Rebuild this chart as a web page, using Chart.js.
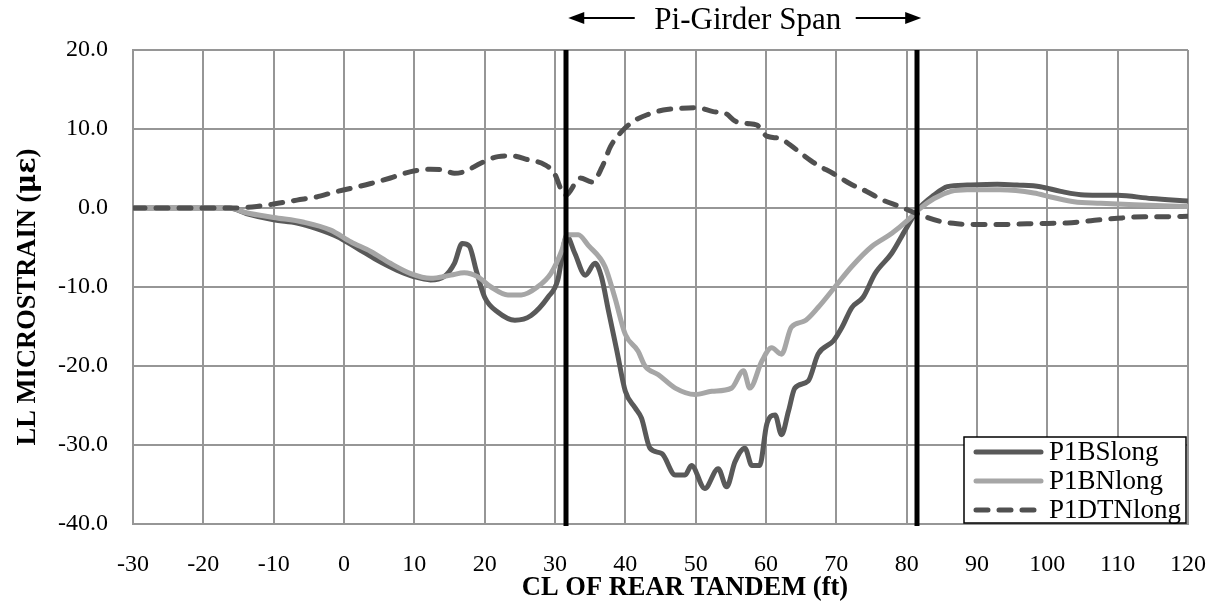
<!DOCTYPE html>
<html>
<head>
<meta charset="utf-8">
<script src="https://cdn.jsdelivr.net/npm/chart.js@4/dist/chart.umd.min.js"></script>
<style>
  html, body { margin: 0; padding: 0; background: #fff; }
  #wrap { width: 1217px; height: 603px; }
</style>
</head>
<body>
<div id="wrap"><canvas id="strainChart" width="1217" height="603"></canvas></div>
<script>
// strain vs. rear tandem position
const serif = "'Liberation Serif', 'Times New Roman', serif";

const xTicks = [-30, -20, -10, 0, 10, 20, 30, 40, 50, 60, 70, 80, 90, 100, 110, 120];
const yTicks = [-40, -30, -20, -10, 0, 10, 20];
const spanEnds = [31.6, 81.5];

const seriesNames = ['P1BSlong', 'P1BNlong', 'P1DTNlong'];

const bsX = [-30, -16.3, -13.9, -10, -6.7, -3.9, -1, 1.9, 4.7, 7.6, 10, 12.3, 14.2, 15.7, 16.8, 17.8, 18.8, 20, 21.9, 24.3,
  26.6, 29, 30.4, 31.4, 31.7, 32.8, 34.3, 35.7, 36.6, 37.6, 38.8, 40, 41.4, 42.3, 43.5, 45.2, 47.1, 48.5, 49.4, 51.3,
  53.2, 54.4, 55.6, 57, 58, 59.1, 60.1, 61.3, 62.2, 63.2, 64.1, 66, 67.4, 69.6, 70.8, 72.2, 73.8, 75.5, 77.9, 79.8,
  81.5, 83.9, 85.8, 88.6, 92.9, 95.7, 99, 101.9, 105.3, 110, 114.8, 120];
const bsY = [0, 0, -0.7, -1.5, -1.9, -2.6, -3.6, -5.1, -6.6, -7.9, -8.7, -9.1, -8.7, -7.0, -4.5, -4.8, -7.9, -11.3, -13.2, -14.2,
  -13.6, -11.3, -9.1, -4.1, -3.6, -5.7, -8.5, -7.0, -8.7, -13.0, -18.1, -23.2, -25.3, -26.6, -30.4, -31.1, -33.8, -33.8, -32.6, -35.5,
  -33.0, -35.3, -32.1, -30.4, -32.6, -32.6, -27.4, -26.2, -28.7, -25.7, -22.8, -21.9, -18.5, -16.8, -15.1, -12.6, -11.3, -8.3, -5.7, -2.8,
  -0.3, 1.65, 2.7, 2.9, 3.0, 2.9, 2.7, 2.1, 1.65, 1.6, 1.2, 0.9];

const bnX = [-30, -16.3, -13.9, -10, -5.7, -1.9, 1, 3.8, 6.6, 9.5, 12.3, 15.2, 17.1, 19, 20.9, 23.3, 25.2, 27.5, 29.4, 31,
  31.7, 33.3, 34.7, 37.1, 38.5, 40, 41.8, 42.8, 44.7, 47.1, 49.9, 52.3, 55.1, 56.8, 57.7, 59.4, 60.8, 62.2, 63.6, 65.5,
  67.4, 69.8, 72.2, 75, 77.9, 80.2, 81.7, 83.9, 86.3, 88.6, 93.3, 98.1, 100.5, 103.8, 107.6, 112.4, 120];
const bnY = [0, 0, -0.6, -1.2, -1.8, -2.8, -4.3, -5.5, -7.0, -8.3, -8.9, -8.5, -8.2, -8.7, -10.0, -11.0, -11.0, -10.0, -8.3, -5.3,
  -3.4, -3.4, -4.7, -7.4, -11.3, -16.0, -18.1, -20.0, -21.1, -22.8, -23.6, -23.2, -22.8, -20.6, -22.8, -19.4, -17.7, -18.5, -15.1, -14.3,
  -12.6, -10.0, -7.4, -4.9, -3.2, -1.5, -0.2, 1.2, 2.1, 2.3, 2.3, 1.9, 1.4, 0.8, 0.6, 0.4, 0.2];

const dtX = [-30, -16, -12.4, -10, -6.7, -3.9, -1.4, 1, 3.8, 6.6, 9.5, 12.3, 14.2, 15.7, 17.1, 19.5, 21.9, 23.8, 26.2, 28.5,
  29.9, 31.1, 31.5, 33.6, 35.3, 36.7, 37.9, 39.5, 41.2, 43.1, 45.4, 47.8, 50.2, 52.5, 54.2, 55.6, 57.3, 58.7, 60.1, 62,
  63.4, 65.3, 67.2, 69.5, 71.9, 74.3, 76.6, 79, 81.4, 82, 84.8, 87.2, 90.5, 93.3, 97.1, 100, 102.8, 106.2, 110, 113.8,
  117.1, 120];
const dtY = [0, 0, 0.2, 0.5, 1.0, 1.4, 2.0, 2.5, 3.1, 3.8, 4.6, 4.9, 4.8, 4.4, 4.6, 5.7, 6.5, 6.6, 6.1, 5.5,
  4.4, 1.9, 1.6, 3.8, 3.3, 5.2, 7.8, 9.7, 11.0, 11.8, 12.4, 12.6, 12.7, 12.2, 12.0, 11.0, 10.7, 10.5, 9.1, 8.8,
  8.0, 6.7, 5.5, 4.4, 3.1, 2.1, 1.0, 0.2, -0.7, -0.9, -1.7, -2.0, -2.1, -2.1, -2.0, -1.95, -1.9, -1.6, -1.3, -1.1,
  -1.1, -1.05];

const pts = (xs, ys) => xs.slice(0, Math.min(xs.length, ys.length)).map((x, i) => ({ x: x, y: ys[i] }));

const gridColor = '#969696';

// text drawn in runs so the greek letters can use a wider face
function drawRuns(ctx, runs, cx, cy) {
  const widths = runs.map(r => { ctx.font = r[1]; return ctx.measureText(r[0]).width; });
  let x = cx - widths.reduce((s, w) => s + w, 0) / 2;
  ctx.textAlign = 'left';
  runs.forEach((r, i) => {
    ctx.font = r[1];
    ctx.fillText(r[0], x, cy);
    x += widths[i];
  });
}

// black span markers, arrows, titles and the boxed legend
const decorations = {
  id: 'decorations',
  afterDatasetsDraw(chart) {
    const { ctx, chartArea, scales } = chart;
    ctx.save();
    ctx.strokeStyle = '#000';
    ctx.lineWidth = 5;
    spanEnds.forEach(v => {
      const px = Math.round(scales.x.getPixelForValue(v));
      ctx.beginPath();
      ctx.moveTo(px, chartArea.top);
      ctx.lineTo(px, chartArea.bottom + 2);
      ctx.stroke();
    });
    ctx.restore();
  },
  afterDraw(chart) {
    const { ctx, chartArea, scales } = chart;
    const a = scales.x.getPixelForValue(spanEnds[0]);
    const b = scales.x.getPixelForValue(spanEnds[1]);
    ctx.save();

    // span caption with arrows
    const cy = 18;
    ctx.font = '31px ' + serif;
    ctx.fillStyle = '#000';
    ctx.textAlign = 'center';
    ctx.textBaseline = 'middle';
    const mid = (a + b) / 2 + 6;
    ctx.fillText('Pi-Girder Span', mid, cy + 3);
    const arrow = (from, to) => {
      const dir = Math.sign(to - from);
      ctx.strokeStyle = '#000';
      ctx.lineWidth = 2;
      ctx.beginPath();
      ctx.moveTo(from, cy);
      ctx.lineTo(to - dir * 12, cy);
      ctx.stroke();
      ctx.beginPath();
      ctx.moveTo(to, cy);
      ctx.lineTo(to - dir * 16, cy - 6);
      ctx.lineTo(to - dir * 16, cy + 6);
      ctx.closePath();
      ctx.fill();
    };
    arrow(mid - 113, a + 2);
    arrow(mid + 108, b + 4);

    // axis titles
    ctx.font = 'bold 26.5px ' + serif;
    ctx.fillText('CL OF REAR TANDEM (ft)', 685, 588);
    ctx.save();
    ctx.translate(28, 297);
    ctx.rotate(-Math.PI / 2);
    drawRuns(ctx, [
      ['LL MICROSTRAIN (', 'bold 26.5px ' + serif],
      ['\u03bc\u03b5', "bold 27px 'DejaVu Serif', serif"],
      [')', 'bold 26.5px ' + serif]
    ], 0, 0);
    ctx.restore();

    // legend box
    const w = 222, h = 86;
    const lx = chartArea.right - w - 2, ly = chartArea.bottom - h - 1;
    ctx.fillStyle = '#fff';
    ctx.fillRect(lx, ly, w, h);
    ctx.strokeStyle = '#000';
    ctx.lineWidth = 1.5;
    ctx.strokeRect(lx, ly, w, h);
    ctx.font = '27px ' + serif;
    ctx.textAlign = 'left';
    chart.data.datasets.forEach((ds, i) => {
      const ry = ly + 15 + i * 29;
      ctx.strokeStyle = ds.borderColor;
      ctx.lineWidth = ds.borderWidth;
      ctx.lineCap = 'round';
      ctx.setLineDash(ds.borderDash || []);
      ctx.beginPath();
      ctx.moveTo(lx + 12, ry);
      ctx.lineTo(lx + 77, ry);
      ctx.stroke();
      ctx.setLineDash([]);
      ctx.fillStyle = '#000';
      ctx.fillText(ds.label, lx + 85, ry + 1);
    });
    ctx.restore();
  }
};

new Chart(document.getElementById('strainChart').getContext('2d'), {
  type: 'line',
  data: {
    datasets: [
      {
        label: seriesNames[0],
        data: pts(bsX, bsY),
        borderColor: '#595959',
        borderWidth: 5,
        pointRadius: 0,
        cubicInterpolationMode: 'monotone',
        borderJoinStyle: 'round',
        order: 2
      },
      {
        label: seriesNames[1],
        data: pts(bnX, bnY),
        borderColor: '#a6a6a6',
        borderWidth: 5,
        pointRadius: 0,
        cubicInterpolationMode: 'monotone',
        borderJoinStyle: 'round',
        order: 1
      },
      {
        label: seriesNames[2],
        data: pts(dtX, dtY),
        borderColor: '#505050',
        borderWidth: 5,
        borderDash: [12, 11],
        borderCapStyle: 'round',
        pointRadius: 0,
        cubicInterpolationMode: 'monotone',
        order: 0
      }
    ]
  },
  options: {
    responsive: false,
    animation: false,
    events: [],
    layout: { padding: { top: 50, right: 29, left: 0, bottom: 0 } },
    plugins: { legend: { display: false }, tooltip: { enabled: false } },
    scales: {
      x: {
        type: 'linear',
        min: xTicks[0],
        max: xTicks[xTicks.length - 1],
        afterBuildTicks: s => { s.ticks = xTicks.map(v => ({ value: v })); },
        afterFit: s => { s.height = 79; s.paddingLeft = 0; s.paddingRight = 0; },
        grid: { color: gridColor, lineWidth: 2, drawTicks: false },
        border: { color: gridColor, width: 2 },
        ticks: {
          font: { family: serif, size: 24 },
          color: '#000',
          padding: 26,
          maxRotation: 0,
          callback: v => String(v)
        }
      },
      y: {
        min: yTicks[0],
        max: yTicks[yTicks.length - 1],
        afterBuildTicks: s => { s.ticks = yTicks.map(v => ({ value: v })); },
        afterFit: s => { s.width = 133; s.paddingTop = 0; s.paddingBottom = 0; },
        grid: { color: gridColor, lineWidth: 2, drawTicks: false },
        border: { color: gridColor, width: 2 },
        ticks: {
          font: { family: serif, size: 24 },
          color: '#000',
          padding: 25,
          callback: v => v.toFixed(1)
        }
      }
    }
  },
  plugins: [decorations]
});
</script>
</body>
</html>
